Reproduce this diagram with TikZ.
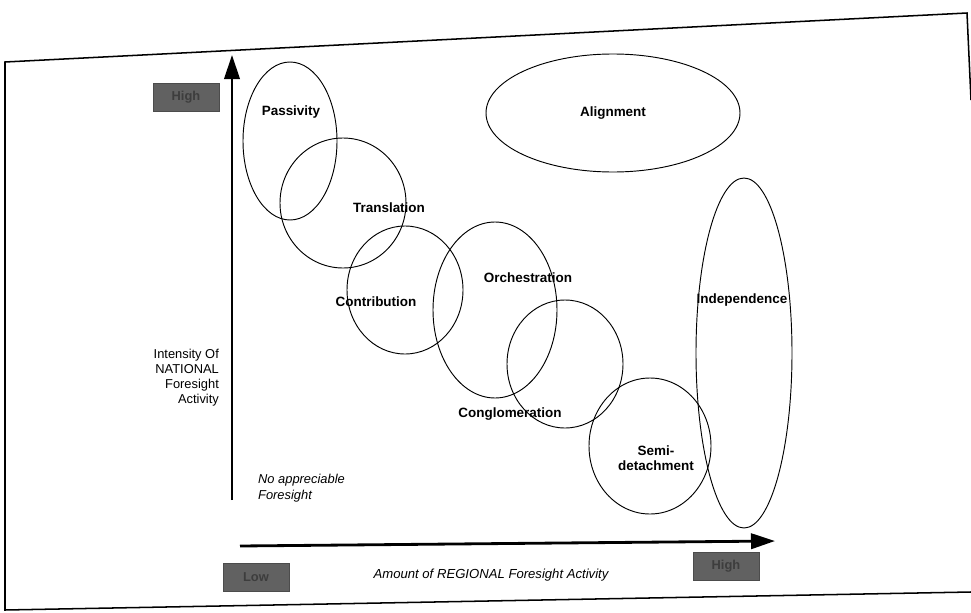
\documentclass[tikz,border=0pt]{standalone}
\usepackage{fontspec}
\setmainfont{Liberation Sans}
\usetikzlibrary{arrows.meta}
\tikzset{
  zone/.style={line width=0.8pt},
  zonelabel/.style={font=\fontsize{11.5}{13}\selectfont\bfseries},
  axislabel/.style={font=\fontsize{11}{12.8}\selectfont, align=right},
  levelbox/.style={fill=black!62, draw=black!70, minimum width=1.98cm,
    minimum height=0.84cm, inner sep=0pt, text=black!76,
    font=\fontsize{11}{13}\selectfont\bfseries},
  axis/.style={line width=2.4pt, -{Triangle[length=0.72cm, width=0.46cm]}}
}
\begin{document}
\begin{tikzpicture}[x=0.03cm, y=-0.03cm]
    \useasboundingbox (0,0) rectangle (971,613);
    % frame
    \draw[line width=1.3pt] (971,592) -- (5,610) -- (5,62) -- (967,13) -- (971,100);
    % axes
    \coordinate (ybase) at (232,500);
    \coordinate (ytip) at (232,55);
    \coordinate (xbase) at (240,546);
    \coordinate (xtip) at (775,541);
    \draw[axis] (ybase) -- (ytip);
    \draw[axis] (xbase) -- (xtip);
    % level boxes
    \node[levelbox] (yhigh) at (186,97) {High};
    \node[levelbox] (xlow) at (256,577) {Low};
    \node[levelbox] (xhigh) at (726,566) {High};
    % axis texts
    \node[axislabel, anchor=north east] (ytitle) at (223,345)
        {Intensity Of\\NATIONAL\\Foresight\\Activity};
    \node[axislabel, align=left, anchor=north west, font=\fontsize{11}{14}\selectfont\itshape] (nofore) at (254,470)
        {No appreciable\\Foresight};
    \node[font=\fontsize{11.2}{13}\selectfont\itshape] (xtitle) at (491,575)
        {Amount of REGIONAL Foresight Activity};
    % regions
    \draw[zone] (290,141) ellipse [x radius=47, y radius=79];
    \draw[zone] (343,203) ellipse [x radius=63, y radius=65];
    \draw[zone] (405,290) ellipse [x radius=58, y radius=64];
    \draw[zone] (495,310) ellipse [x radius=62, y radius=88];
    \draw[zone] (565,364) ellipse [x radius=58, y radius=64];
    \draw[zone] (650,446) ellipse [x radius=61, y radius=68];
    \draw[zone] (613,113) ellipse [x radius=127, y radius=59];
    \draw[zone] (744,353) ellipse [x radius=48, y radius=175];
    % region names
    \node[zonelabel] (passivity) at (291,112) {Passivity};
    \node[zonelabel] (translation) at (389,208) {Translation};
    \node[zonelabel] (contribution) at (376,302) {Contribution};
    \node[zonelabel] (orchestration) at (528,278) {Orchestration};
    \node[zonelabel] (conglomeration) at (510,414) {Conglomeration};
    \node[zonelabel, align=center] (semidet) at (656,458) {Semi-\\detachment};
    \node[zonelabel] (alignment) at (613,113) {Alignment};
    \node[zonelabel] (independence) at (742,300) {Independence};
\end{tikzpicture}
\end{document}
